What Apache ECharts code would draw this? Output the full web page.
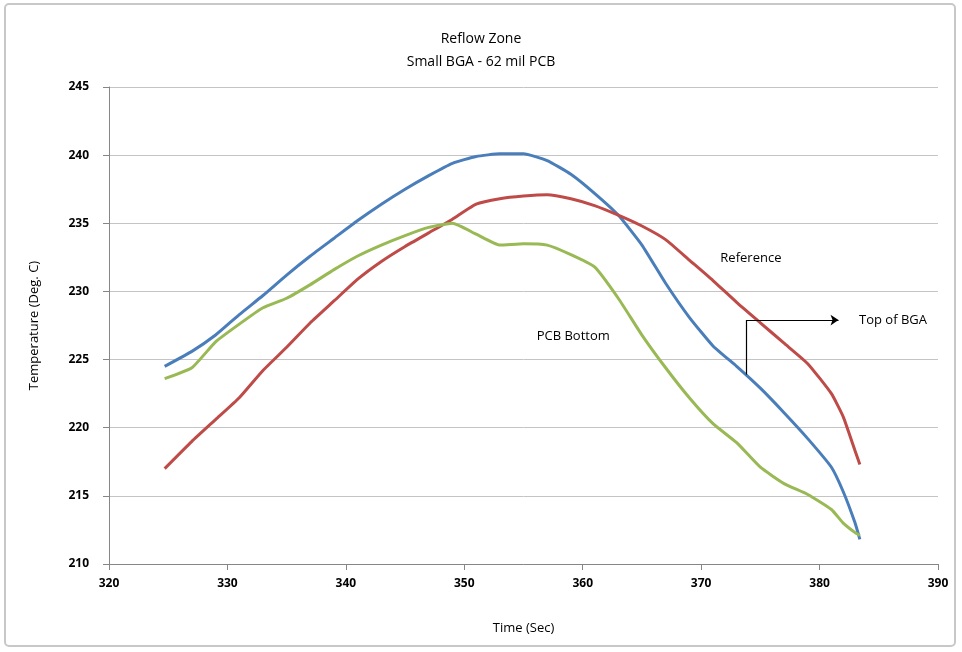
<!DOCTYPE html>
<html>
<head>
<meta charset="utf-8">
<script src="https://cdn.jsdelivr.net/npm/echarts@6/dist/echarts.min.js"></script>
<style>
  html, body { margin: 0; padding: 0; background: #fff; }
  #chart { width: 962px; height: 652px; }
</style>
</head>
<body>
<div id="chart"></div>
<script>
// 时间轴 (秒)
const time = [324.7, 327, 329, 331, 333, 335, 337, 339, 341, 343, 345, 347, 349, 351, 353,
  355, 357, 359, 361, 363, 365, 367, 369, 371, 373, 375, 377, 379, 381, 382, 383, 383.4]

const topOfBga = [224.5, 225.6, 226.8, 228.3, 229.7, 231.2, 232.6, 233.9, 235.2, 236.4, 237.5, 238.5, 239.4, 239.9, 240.1,
  240.1, 239.6, 238.6, 237.2, 235.6, 233.4, 230.6, 228.1, 226.0, 224.5, 222.9, 221.1, 219.2, 217.1, 215.3, 213.0, 211.8]

const reference = [217.0, 219.0, 220.6, 222.2, 224.2, 225.9, 227.7, 229.3, 230.9, 232.2, 233.3, 234.3, 235.3, 236.4, 236.8,
  237.0, 237.1, 236.8, 236.3, 235.6, 234.8, 233.8, 232.3, 230.8, 229.2, 227.7, 226.2, 224.7, 222.5, 220.8, 218.3, 217.3]

const pcbBottom = [223.6, 224.4, 226.3, 227.6, 228.8, 229.5, 230.5, 231.6, 232.6, 233.4, 234.1, 234.7, 235.0, 234.2, 233.4,
  233.5, 233.4, 232.7, 231.8, 229.5, 226.8, 224.4, 222.2, 220.3, 218.9, 217.1, 215.9, 215.1, 214.0, 213.0, 212.3, 212.1]

// 标注 (数据坐标)
const arrowPath = [[373.8, 223.9], [373.8, 227.9], [381.6, 227.9]]
const labels = [
  {name: 'Reference', coord: [374.2, 232.4]},
  {name: 'PCB Bottom', coord: [359.2, 226.7]},
  {name: 'Top of BGA', coord: [386.2, 227.9]},
]

const pair = (arr) => arr.map((v, i) => [time[i], v])
const fontFamily = 'Open Sans, Noto Sans, sans-serif'

const chart = echarts.init(document.getElementById('chart'))

const option = {
  backgroundColor: '#ffffff',
  animation: false,
  title: {
    text: 'Reflow Zone\nSmall BGA - 62 mil PCB',
    left: 'center',
    top: 23,
    textStyle: {fontFamily, fontSize: 14, fontWeight: 'normal', color: '#000', lineHeight: 23},
  },
  graphic: [
    {
      type: 'rect',
      shape: {x: 5, y: 4, width: 950, height: 642, r: 4},
      style: {fill: 'none', stroke: '#c8c8c8', lineWidth: 2},
    },
  ],
  grid: {left: 109, right: 24, top: 87, bottom: 88},
  xAxis: {
    type: 'value',
    min: 320,
    max: 390,
    interval: 10,
    name: 'Time (Sec)',
    nameLocation: 'middle',
    nameGap: 58,
    nameTextStyle: {fontFamily, fontSize: 13, color: '#000'},
    axisLine: {lineStyle: {color: '#868686'}},
    axisTick: {show: true, length: 6, lineStyle: {color: '#868686'}},
    axisLabel: {fontFamily, fontSize: 12, fontWeight: 'bold', color: '#000', margin: 14},
    splitLine: {show: false},
  },
  yAxis: {
    type: 'value',
    min: 210,
    max: 245,
    interval: 5,
    name: 'Temperature (Deg. C)',
    nameLocation: 'middle',
    nameGap: 68,
    nameTextStyle: {fontFamily, fontSize: 13, color: '#000'},
    axisLine: {show: true, lineStyle: {color: '#868686'}},
    axisTick: {show: true, length: 6, lineStyle: {color: '#868686'}},
    axisLabel: {fontFamily, fontSize: 12, fontWeight: 'bold', color: '#000', margin: 20},
    splitLine: {show: true, lineStyle: {color: '#c4c4c4', width: 1}},
  },
  series: [
    {
      name: 'Top of BGA',
      type: 'line',
      data: pair(topOfBga),
      smooth: 0.15,
      showSymbol: false,
      lineStyle: {color: '#4a7ebb', width: 3},
    },
    {
      name: 'Reference',
      type: 'line',
      data: pair(reference),
      smooth: 0.15,
      showSymbol: false,
      lineStyle: {color: '#be4b48', width: 3},
    },
    {
      name: 'PCB Bottom',
      type: 'line',
      data: pair(pcbBottom),
      smooth: 0.15,
      showSymbol: false,
      lineStyle: {color: '#98b954', width: 3},
      markLine: {
        silent: true,
        animation: false,
        lineStyle: {color: '#000', width: 1.2, type: 'solid'},
        label: {show: false},
        data: [
          [{coord: arrowPath[0], symbol: 'none'}, {coord: arrowPath[1], symbol: 'none'}],
          [{coord: arrowPath[1], symbol: 'none'}, {coord: arrowPath[2], symbol: 'arrow', symbolSize: 8}],
        ],
      },
      markPoint: {
        silent: true,
        symbol: 'circle',
        symbolSize: 0,
        label: {
          show: true,
          formatter: '{b}',
          fontFamily,
          fontSize: 13,
          color: '#000',
        },
        data: labels,
      },
    },
  ],
}

chart.setOption(option)
</script>
</body>
</html>
